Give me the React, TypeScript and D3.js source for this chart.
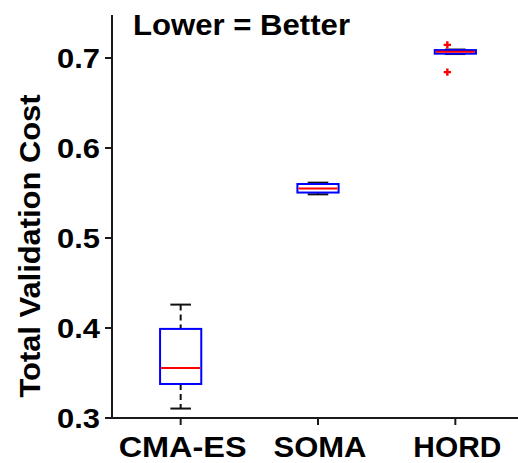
import React from "react";
import * as d3 from "d3";

// Box-plot summaries per optimiser
const categories = ["CMA-ES", "SOMA", "HORD"];
const whiskerLow = [0.3105, 0.5485, 0.7044];
const q1 = [0.3378, 0.5505, 0.7048];
const median = [0.3556, 0.5550, 0.7069];
const q3 = [0.3990, 0.5600, 0.7088];
const whiskerHigh = [0.4260, 0.5615, 0.7094];
const outliers: [number, number][] = [
  [2, 0.7146],
  [2, 0.6843],
];
const yTicks = [0.3, 0.4, 0.5, 0.6, 0.7];
const labelWidths = [128, 93, 88];

const W = 518;
const H = 463;
const font = "'Liberation Sans', Arial, Helvetica, sans-serif";

export default function App() {
  const x = d3.scaleLinear().domain([0.5, 3.5]).range([112, 524]);
  const y = d3.scaleLinear().domain([0.3, 0.7]).range([418, 58]);
  const boxHalf = 0.15;
  const capHalf = 0.075;
  const yTop = 15;

  return (
    <svg
      width={W}
      height={H}
      style={{ position: "absolute", left: 0, top: 0, background: "#fff" }}
      fontFamily={font}
    >
      <rect width={W} height={H} fill="#fff" />
      {/* axes */}
      <line x1={112} x2={112} y1={yTop} y2={419} stroke="#1a1a1a" strokeWidth={2} />
      <line x1={111} x2={W} y1={418} y2={418} stroke="#1a1a1a" strokeWidth={2} />
      {yTicks.map((t) => (
        <g key={t}>
          <line x1={105} x2={112} y1={y(t)} y2={y(t)} stroke="#1a1a1a" strokeWidth={2} />
          <text
            x={100}
            y={y(t) + 10}
            textAnchor="end"
            fontSize={27}
            fontWeight="bold"
            fill="#000"
            textLength={43}
            lengthAdjust="spacingAndGlyphs"
          >
            {t.toFixed(1)}
          </text>
        </g>
      ))}
      {categories.map((c, i) => (
        <g key={c}>
          <line x1={x(i + 1)} x2={x(i + 1)} y1={418} y2={425} stroke="#1a1a1a" strokeWidth={2} />
          <text
            x={x(i + 1) + 2}
            y={456.5}
            textAnchor="middle"
            fontSize={29}
            fontWeight="bold"
            fill="#000"
            textLength={labelWidths[i]}
            lengthAdjust="spacingAndGlyphs"
          >
            {c}
          </text>
        </g>
      ))}
      {/* boxes */}
      {categories.map((c, i) => {
        const cx = x(i + 1);
        const bx0 = x(i + 1 - boxHalf);
        const bx1 = x(i + 1 + boxHalf);
        const cx0 = x(i + 1 - capHalf);
        const cx1 = x(i + 1 + capHalf);
        return (
          <g key={"b" + c}>
            <line
              x1={cx}
              x2={cx}
              y1={y(whiskerHigh[i])}
              y2={y(q3[i])}
              stroke="#111"
              strokeWidth={2}
              strokeDasharray="6,4"
            />
            <line
              x1={cx}
              x2={cx}
              y1={y(q1[i])}
              y2={y(whiskerLow[i])}
              stroke="#111"
              strokeWidth={2}
              strokeDasharray="6,4"
            />
            <line x1={cx0} x2={cx1} y1={y(whiskerHigh[i])} y2={y(whiskerHigh[i])} stroke="#111" strokeWidth={2} />
            <line x1={cx0} x2={cx1} y1={y(whiskerLow[i])} y2={y(whiskerLow[i])} stroke="#111" strokeWidth={2} />
            <rect
              x={bx0}
              y={y(q3[i])}
              width={bx1 - bx0}
              height={y(q1[i]) - y(q3[i])}
              fill="none"
              stroke="#0000ff"
              strokeWidth={2}
            />
            <line x1={bx0 + 1} x2={bx1 - 1} y1={y(median[i])} y2={y(median[i])} stroke="#ff0000" strokeWidth={2} />
          </g>
        );
      })}
      {outliers.map(([ci, v], k) => (
        <path
          key={k}
          d={d3.symbol(d3.symbolCross, 30)() as string}
          transform={`translate(${x(ci + 1) - 8},${y(v)})`}
          fill="#ff0000"
        />
      ))}
      {/* headline */}
      <text
        x={133}
        y={35}
        fontSize={29}
        fontWeight="bold"
        fill="#000"
        textLength={217}
        lengthAdjust="spacingAndGlyphs"
      >
        Lower = Better
      </text>
      {/* y-axis title */}
      <text
        transform="translate(40,246) rotate(-90)"
        textAnchor="middle"
        fontSize={30}
        fontWeight="bold"
        fill="#000"
        textLength={303}
        lengthAdjust="spacingAndGlyphs"
      >
        Total Validation Cost
      </text>
    </svg>
  );
}
